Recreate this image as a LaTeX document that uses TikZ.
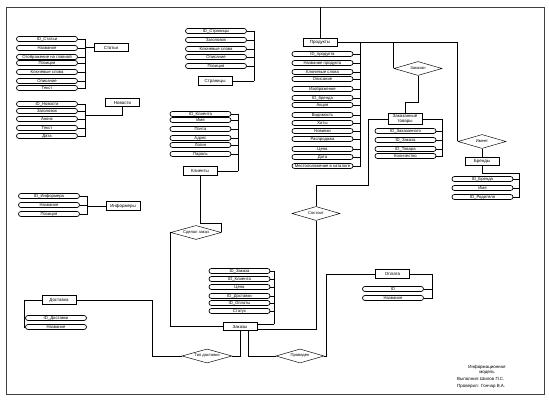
\documentclass[tikz,border=0pt]{standalone}
\usepackage{fontspec}
\setmainfont{Liberation Sans}
\usetikzlibrary{shapes.geometric, positioning, calc}
\tikzset{
  ent/.style={draw, line width=0.8pt, fill=white, minimum width=1.02cm,
              minimum height=0.26cm, inner sep=0pt, align=center,
              font=\fontsize{3.8}{4.4}\selectfont},
  attr/.style={draw, line width=0.6pt, fill=white, rounded corners=0.075cm,
               minimum width=1.83cm, minimum height=0.15cm, inner sep=0pt,
               font=\fontsize{3.6}{4}\selectfont},
  rel/.style={draw, diamond, aspect=3.3, line width=0.4pt, fill=white,
              minimum width=1.44cm, minimum height=0.42cm, inner sep=0pt,
              font=\fontsize{3.5}{4}\selectfont},
  link/.style={line width=0.6pt},
  foot/.style={inner sep=0pt, font=\fontsize{3.8}{4.4}\selectfont}
}
\begin{document}
\begin{tikzpicture}[x=0.03cm, y=-0.03cm]
  \useasboundingbox (0,0) rectangle (549,405);
  \draw[line width=0.8pt, black!75] (6,7) rectangle (544,394);

  % Статьи
  \node[ent] (statyi) at (111,47.5) {Статьи};
  \coordinate (stbus) at (85,47.5);
  \foreach \y/\t [count=\i] in {39/ID\_Статьи, 48/Название,
      57/Отображение на главной, 63/Позиция, 72/Ключевые слова,
      81/Описание, 88/Текст} {
    \node[attr] (st\i) at (47,\y) {\t};
    \draw[link] (st\i.east) -| (stbus);
  }
  \draw[link] (stbus) -- (statyi.west);

  % Новости
  \node[ent] (novosti) at (122.5,102.5) {Новости};
  \coordinate (nbus) at (85,115);
  \foreach \y/\t [count=\i] in {104/ID\_Новости, 111/Заголовок,
      119/Анонс, 128/Текст, 136/Дата} {
    \node[attr] (nv\i) at (47,\y) {\t};
    \draw[link] (nv\i.east) -| (nbus);
  }
  \draw[link] (nbus) -| (novosti.south);

  % Информеры
  \node[ent] (informery) at (123,206) {Информеры};
  \coordinate (ibus) at (87,206);
  \foreach \y/\t [count=\i] in {196/ID\_Информера, 205/Название,
      214/Позиция} {
    \node[attr] (inf\i) at (49,\y) {\t};
    \draw[link] (inf\i.east) -| (ibus);
  }
  \draw[link] (ibus) -- (informery.west);

  % Страницы
  \node[ent] (stranicy) at (215,81) {Страницы};
  \coordinate (sbus) at (254,81);
  \foreach \y/\t [count=\i] in {31/ID\_Страницы, 40/Заголовок,
      49/Ключевые слова, 57/Описание, 66/Позиция} {
    \node[attr] (sp\i) at (216,\y) {\t};
    \draw[link] (sp\i.east) -| (sbus);
  }
  \draw[link] (sbus) -- (stranicy.east);

  % Клиенты
  \node[ent] (klienty) at (200,171) {Клиенты};
  \coordinate (kbus) at (238,171);
  \foreach \y/\t [count=\i] in {114/ID\_Клиента, 120/Имя, 129/Почта,
      138/Адрес, 145/Логин, 154/Пароль} {
    \node[attr] (kl\i) at (200.5,\y) {\t};
    \draw[link] (kl\i.east) -| (kbus);
  }
  \draw[link] (kbus) -- (klienty.east);

  % Продукты
  \node[ent] (produkty) at (320,42.5) {Продукты};
  \coordinate (ptop) at (320,7);
  \coordinate (pbus) at (360,42.5);
  \foreach \y/\t [count=\i] in {54/ID\_продукта, 63/Название продукта,
      72/Ключевые слова, 79/Описание, 89/Изображение, 98/ID\_бренда,
      105/Акция, 115/Видимость, 123/Хиты, 131/Новинки, 139/Распродажа,
      149/Цена, 157/Дата, 166/Местоположение в каталоге} {
    \node[attr] (pr\i) at (322.5,\y) {\t};
    \draw[link] (pr\i.east) -| (pbus);
  }
  \draw[link] (ptop) -- (produkty.north);
  \draw[link] (produkty.east) -- (pbus);

  % Заказанные товары
  \node[rel] (zakazan) at (418,68.5) {Заказан};
  \node[ent, minimum height=0.31cm] (ztovary) at (405,119) {Заказанные\\товары};
  \coordinate (zbus) at (442,119);
  \foreach \y/\t [count=\i] in {131/ID\_Заказанного, 140/ID\_Заказа,
      149/ID\_Товара, 156/Количество} {
    \node[attr] (zt\i) at (405.5,\y) {\t};
    \draw[link] (zt\i.east) -| (zbus);
  }
  \draw[link] (zbus) -- (ztovary.east);
  \draw[link] (produkty.east) -| (zakazan.west);
  \draw[link] (zakazan.south) -- (418,102) -| (ztovary.north);

  % Бренды
  \node[rel] (imeet) at (482,141.5) {Имеет};
  \node[ent] (brendy) at (482,161.5) {Бренды};
  \coordinate (bbus) at (519,173);
  \foreach \y/\t [count=\i] in {179/ID\_Бренда, 188/Имя,
      197/ID\_Родителя} {
    \node[attr] (br\i) at (482.5,\y) {\t};
    \draw[link] (br\i.east) -| (bbus);
  }
  \draw[link] (brendy.south) |- (bbus);
  \draw[link] (produkty.east) -| (imeet.west);
  \draw[link] (imeet.south) -- (brendy.north);

  % Заказы
  \node[ent] (zakazy) at (240,326.5) {Заказы};
  \coordinate (zkbus) at (274,324.5);
  \foreach \y/\t [count=\i] in {271/ID\_Заказа, 279/ID\_Клиента,
      287/Цена, 296/ID\_Доставки, 303/ID\_Оплаты, 311/Статус} {
    \node[attr] (zk\i) at (239.5,\y) {\t};
    \draw[link] (zk\i.east) -| (zkbus);
  }
  \draw[link] (zkbus) -- (zakazy.east |- zkbus);

  \node[rel] (sostoit) at (316,213.5) {Состоит};
  \draw[link] (ztovary.west) -| (368,185) -| (sostoit.north);
  \draw[link] (sostoit.south) |- ($(zakazy.east)+(0,3)$);

  \node[rel, minimum width=1.52cm] (sdelal) at (196,232.5) {Сделал заказ};
  \draw[link] (klienty.south) |- ($(sdelal.east)+(0,-9)$) -- (sdelal.east);
  \draw[link] (sdelal.west) |- (zakazy.west);

  % Доставка
  \node[ent] (dostavka) at (59,300) {Доставка};
  \coordinate (dbus) at (24,300);
  \foreach \y/\t [count=\i] in {318/ID\_Доставки, 327/Название} {
    \node[attr] (ds\i) at (56,\y) {\t};
    \draw[link] (ds\i.west) -| (dbus);
  }
  \draw[link] (dbus) -- (dostavka.west);
  \node[rel, minimum width=1.5cm] (tip) at (207,356) {Тип доставки};
  \draw[link] (dostavka.east) -- (152,300) |- (tip.west);
  \draw[link] ($(zakazy.south)+(0,0)$) |- (tip.east);

  % Оплата
  \node[ent] (oplata) at (392.5,274) {Оплата};
  \coordinate (obus) at (432,274);
  \foreach \y/\t [count=\i] in {289/ID, 298/Название} {
    \node[attr] (op\i) at (393,\y) {\t};
    \draw[link] (op\i.east) -| (obus);
  }
  \draw[link] (obus) -- (oplata.east);
  \node[rel] (proveden) at (300,356) {Проведен};
  \draw[link] ($(zakazy.south)+(8,0)$) |- (proveden.west);
  \draw[link] (proveden.east) -- ++(2,0) |- (oplata.west);

  % штамп
  \node[foot] (fname1) at (487,367) {Информационная};
  \node[foot] (fname2) at (487,372.5) {модель};
  \node[foot, anchor=west] (fdone) at (457,378.5) {Выполнил:};
  \node[foot, anchor=west] (fdonen) at (480,378.5) {Шилов П.С.};
  \node[foot, anchor=west] (fchk) at (457,386) {Проверил:};
  \node[foot, anchor=west] (fchkn) at (481,386) {Гончар В.А.};
\end{tikzpicture}
\end{document}
